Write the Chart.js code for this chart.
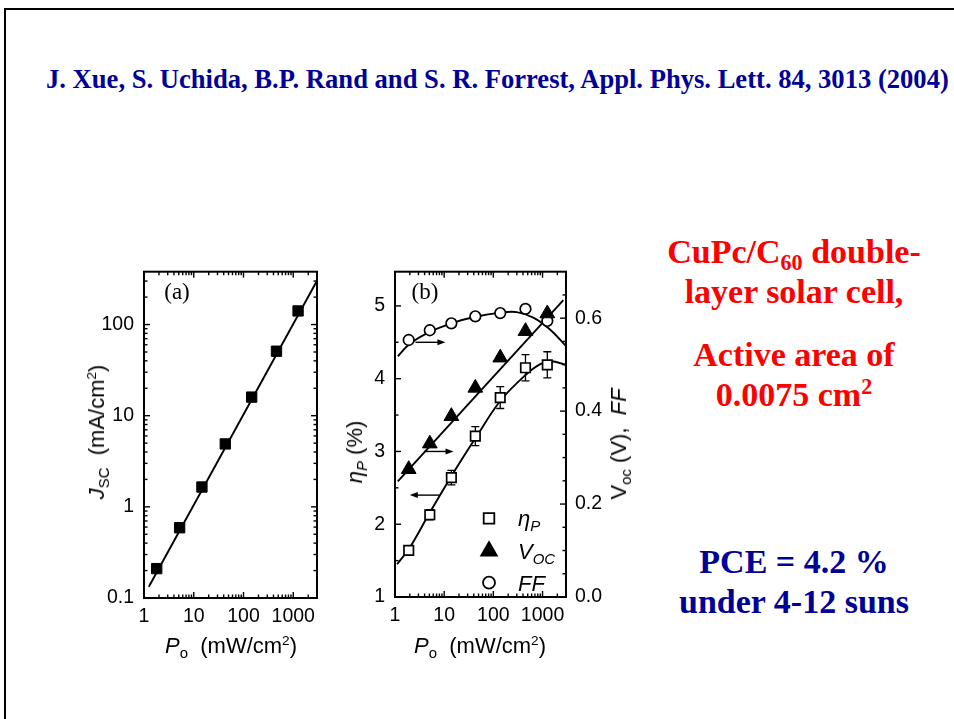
<!DOCTYPE html>
<html>
<head>
<meta charset="utf-8">
<script src="https://cdn.jsdelivr.net/npm/chart.js@4.4.1/dist/chart.umd.min.js"></script>
<style>
  html, body { margin: 0; padding: 0; background: #fff; }
  body { width: 954px; height: 719px; position: relative; overflow: hidden;
         font-family: "Liberation Sans", Arial, sans-serif; color: #000; }
  .frame { position: absolute; left: 4px; top: 8px; width: 1000px; height: 800px;
           border-top: 2px solid #000; border-left: 2px solid #000; }
  .cite { position: absolute; left: 46px; top: 66px; white-space: nowrap;
          font: bold 26.6px "Liberation Serif", "Times New Roman", serif; line-height: 26.6px; color: #000099; }
  .note { position: absolute; left: 644px; width: 300px; text-align: center; white-space: nowrap;
          font: bold 34px "Liberation Serif", "Times New Roman", serif; line-height: 34px; }
  .red { color: #ff0000; }
  .blue { color: #000099; }
  .note sub { font-size: 0.65em; vertical-align: -0.3em; line-height: 0; }
  .note sup { font-size: 0.65em; vertical-align: 0.55em; line-height: 0; }
  canvas { position: absolute; }
  .atitle { position: absolute; white-space: nowrap; font-size: 22px; line-height: 22px;
            transform: translate(-50%, -50%); }
  .atitle.rot { transform: translate(-50%, -50%) rotate(-90deg); }
  .atitle sub { font-size: 0.68em; vertical-align: -0.35em; line-height: 0; }
  .atitle sup { font-size: 0.62em; vertical-align: 0.6em; line-height: 0; }
  .panel { position: absolute; font: 23px "Liberation Serif", "Times New Roman", serif;
           line-height: 23px; transform: translate(-50%, -50%); }
</style>
</head>
<body>
<div class="frame"></div>
<div class="cite">J. Xue, S. Uchida, B.P. Rand and S. R. Forrest, Appl. Phys. Lett. 84, 3013 (2004)</div>

<div class="note red" style="top:235px">CuPc/C<sub>60</sub> double-</div>
<div class="note red" style="top:275px">layer solar cell,</div>
<div class="note red" style="top:338px">Active area of</div>
<div class="note red" style="top:378px">0.0075 cm<sup>2</sup></div>
<div class="note blue" style="top:545px">PCE = 4.2 %</div>
<div class="note blue" style="top:585px">under 4-12 suns</div>

<canvas id="jsc" width="280" height="430" style="left:60px;top:250px"></canvas>
<canvas id="eff" width="300" height="430" style="left:330px;top:250px"></canvas>

<div class="panel" style="left:177px;top:291px">(a)</div>
<div class="panel" style="left:425px;top:291px">(b)</div>

<div class="atitle rot" style="left:97px;top:432px"><i>J</i><sub>SC</sub>&nbsp; (mA/cm<sup>2</sup>)</div>
<div class="atitle" style="left:231px;top:646px"><i>P</i><sub>o</sub>&nbsp; (mW/cm<sup>2</sup>)</div>
<div class="atitle rot" style="left:355px;top:452px"><i>η</i><sub><i>P</i></sub>&nbsp;(%)</div>
<div class="atitle" style="left:480px;top:646px"><i>P</i><sub>o</sub>&nbsp; (mW/cm<sup>2</sup>)</div>
<div class="atitle rot" style="left:619px;top:444px">V<sub>oc</sub>&nbsp;(V), &nbsp;<i>FF</i></div>

<script>
// ---- (a) short-circuit current density vs incident power ----
const powerA = [1.8, 5.2, 14.6, 43, 146, 460, 1250];
const jscA = [0.21, 0.59, 1.65, 4.9, 16.0, 51, 141];
const fitPowerA = [1.25, 3000];
const fitJscA = [0.133, 303];

const xTickValues = [1, 10, 100, 1000];
const xTickLabels = ['1', '10', '100', '1000'];
const jscTickValues = [0.1, 1, 10, 100];
const jscTickLabels = ['0.1', '1', '10', '100'];

// ---- (b) efficiency, open-circuit voltage and fill factor ----
const powerB = [1.9, 5.1, 14, 43, 138, 450, 1250];
const etaP = [1.64, 2.13, 2.64, 3.21, 3.74, 4.15, 4.19];
const etaErr = [0.04, 0.07, 0.1, 0.13, 0.15, 0.18, 0.18];
const voc = [0.275, 0.33, 0.389, 0.45, 0.515, 0.572, 0.61];
const ff = [0.553, 0.574, 0.589, 0.604, 0.611, 0.62, 0.594];

const etaFitPower = [1.1, 2, 5, 14, 43, 140, 450, 900, 1500, 3000];
const etaFit = [1.45, 1.68, 2.15, 2.66, 3.18, 3.7, 4.05, 4.2, 4.24, 4.19];
const vocFitPower = [1.14, 2650];
const vocFit = [0.249, 0.639];
const ffFitPower = [1.14, 2, 5, 14, 43, 140, 300, 650, 1400, 3000];
const ffFit = [0.518, 0.545, 0.57, 0.589, 0.603, 0.612, 0.613, 0.601, 0.576, 0.54];

const etaTickValues = [1, 2, 3, 4, 5];
const etaTickLabels = ['1', '2', '3', '4', '5'];
const etaMinorTicks = [1.5, 2.5, 3.5, 4.5];
const rightTickValues = [0, 0.2, 0.4, 0.6];
const rightTickLabels = ['0.0', '0.2', '0.4', '0.6'];
const rightMinorTicks = [0.05, 0.1, 0.15, 0.25, 0.3, 0.35, 0.45, 0.5, 0.55, 0.65];

// axis-pointing arrows, placed on the left (efficiency) scale
const arrowLevel = [4.5, 3.0, 2.4];
const arrowFrom = [2.6, 3.9, 8.4];
const arrowTo = [10.6, 15.5, 2.0];

Chart.defaults.font.family = "'Liberation Sans', Arial, sans-serif";
Chart.defaults.color = '#000';

const pts = (xs, ys) => xs.map((x, i) => ({ x, y: ys[i] }));

function logMinors(lo, hi) {
  const out = [];
  for (let e = Math.floor(Math.log10(lo)); Math.pow(10, e) < hi; e++) {
    const d = Math.pow(10, e);
    for (let m = 2; m <= 9; m++) {
      const v = m * d;
      if (v > lo && v < hi) out.push(v);
    }
  }
  return out;
}

// closed box with inward ticks on every side
function framePlugin(spec) {
  return {
    id: 'frame',
    afterDraw(chart) {
      const { ctx, chartArea: a } = chart;
      const xs = chart.scales[spec.x];
      const ls = chart.scales[spec.left];
      const rs = chart.scales[spec.right];
      const major = 6, minor = 3.5;
      ctx.save();
      ctx.strokeStyle = '#000';
      ctx.lineWidth = 1.4;
      const seg = (x1, y1, x2, y2) => { ctx.beginPath(); ctx.moveTo(x1, y1); ctx.lineTo(x2, y2); ctx.stroke(); };
      const inX = p => p >= a.left - 0.5 && p <= a.right + 0.5;
      const inY = p => p >= a.top - 0.5 && p <= a.bottom + 0.5;
      const xt = (vals, len) => vals.forEach(v => {
        const p = xs.getPixelForValue(v);
        if (!inX(p)) return;
        seg(p, a.bottom, p, a.bottom - len);
        seg(p, a.top, p, a.top + len);
      });
      xt(spec.xMajor, major);
      xt(spec.xMinor, minor);
      const lt = (vals, len) => vals.forEach(v => {
        const p = ls.getPixelForValue(v);
        if (inY(p)) seg(a.left, p, a.left + len, p);
      });
      const rt = (vals, len) => vals.forEach(v => {
        const p = rs.getPixelForValue(v);
        if (inY(p)) seg(a.right, p, a.right - len, p);
      });
      lt(spec.leftMajor, major); lt(spec.leftMinor, minor);
      rt(spec.rightMajor, major); rt(spec.rightMinor, minor);
      ctx.lineWidth = 2;
      ctx.strokeRect(a.left, a.top, a.right - a.left, a.bottom - a.top);
      ctx.restore();
    }
  };
}

function fixedTicks(values, labels, pad) {
  return {
    grid: { display: false, drawTicks: false },
    border: { display: false },
    afterBuildTicks: s => { s.ticks = values.map(v => ({ value: v })); },
    ticks: {
      autoSkip: false, maxRotation: 0, minRotation: 0, padding: pad,
      font: { size: 19.5 }, color: '#000',
      callback: (v, i) => labels[i]
    }
  };
}

// ---------- chart (a) ----------
const jscMinor = logMinors(0.1, 380);
const powMinor = logMinors(1, 3000);

new Chart(document.getElementById('jsc'), {
  type: 'scatter',
  data: {
    datasets: [
      {
        data: pts(powerA, jscA),
        pointStyle: 'rect', pointRadius: 7.3, pointHoverRadius: 7.3,
        backgroundColor: '#000', borderColor: '#000', borderWidth: 1
      },
      {
        data: pts(fitPowerA, fitJscA),
        showLine: true, pointRadius: 0, borderColor: '#000', borderWidth: 1.9
      }
    ]
  },
  options: {
    responsive: false, animation: false, devicePixelRatio: 1,
    layout: { padding: { top: 13, right: 23, left: 0, bottom: 0 } },
    plugins: { legend: { display: false }, tooltip: { enabled: false } },
    scales: {
      x: {
        type: 'logarithmic', min: 1, max: 3000,
        ...fixedTicks(xTickValues, xTickLabels, 7),
        afterFit: s => { s.height = 82; }
      },
      y: {
        type: 'logarithmic', min: 0.1, max: 380,
        ...fixedTicks(jscTickValues, jscTickLabels, 10),
        afterFit: s => { s.width = 84; }
      }
    }
  },
  plugins: [framePlugin({
    x: 'x', left: 'y', right: 'y',
    xMajor: xTickValues, xMinor: powMinor,
    leftMajor: jscTickValues, leftMinor: jscMinor,
    rightMajor: jscTickValues, rightMinor: jscMinor
  })]
});

// ---------- chart (b) ----------
const errorBars = {
  id: 'errorBars',
  beforeDatasetsDraw(chart) {
    const { ctx } = chart;
    const xs = chart.scales.x, ys = chart.scales.y;
    ctx.save();
    ctx.strokeStyle = '#000';
    ctx.lineWidth = 1.3;
    powerB.forEach((p, i) => {
      const x = xs.getPixelForValue(p);
      const yt = ys.getPixelForValue(etaP[i] + etaErr[i]);
      const yb = ys.getPixelForValue(etaP[i] - etaErr[i]);
      ctx.beginPath();
      ctx.moveTo(x, yt); ctx.lineTo(x, yb);
      ctx.moveTo(x - 4, yt); ctx.lineTo(x + 4, yt);
      ctx.moveTo(x - 4, yb); ctx.lineTo(x + 4, yb);
      ctx.stroke();
    });
    ctx.restore();
  }
};

const arrows = {
  id: 'arrows',
  afterDatasetsDraw(chart) {
    const { ctx } = chart;
    const xs = chart.scales.x, ys = chart.scales.y;
    ctx.save();
    ctx.strokeStyle = '#000';
    ctx.fillStyle = '#000';
    ctx.lineWidth = 1.4;
    arrowLevel.forEach((lv, i) => {
      const y = ys.getPixelForValue(lv);
      const x1 = xs.getPixelForValue(arrowFrom[i]);
      const x2 = xs.getPixelForValue(arrowTo[i]);
      const dir = Math.sign(x2 - x1);
      ctx.beginPath();
      ctx.moveTo(x1, y); ctx.lineTo(x2 - dir * 4, y);
      ctx.stroke();
      ctx.beginPath();
      ctx.moveTo(x2, y);
      ctx.lineTo(x2 - dir * 8, y - 3);
      ctx.lineTo(x2 - dir * 8, y + 3);
      ctx.closePath();
      ctx.fill();
    });
    ctx.restore();
  }
};

const legendItems = [
  { style: 'rect', radius: 7.5, fill: '#fff', label: 'η', sub: 'P', dy: 246.7 },
  { style: 'triangle', radius: 9, fill: '#000', label: 'V', sub: 'OC', dy: 279.3 },
  { style: 'circle', radius: 6, fill: '#fff', label: 'FF', sub: '', dy: 311 }
];

const legendBox = {
  id: 'legendBox',
  afterDraw(chart) {
    const { ctx, chartArea: a } = chart;
    ctx.save();
    legendItems.forEach(it => {
      const mx = a.left + 94, y = a.top + it.dy;
      ctx.fillStyle = it.fill;
      ctx.strokeStyle = '#000';
      ctx.lineWidth = 1.8;
      Chart.helpers.drawPoint(ctx, { pointStyle: it.style, radius: it.radius, borderWidth: 1.8, rotation: 0 }, mx, y);
      ctx.fillStyle = '#000';
      ctx.textBaseline = 'alphabetic';
      ctx.font = "italic 22px 'Liberation Sans', Arial, sans-serif";
      const tx = a.left + 123;
      ctx.fillText(it.label, tx, y + 8);
      const w = ctx.measureText(it.label).width;
      if (it.sub) {
        ctx.font = "italic 15px 'Liberation Sans', Arial, sans-serif";
        ctx.fillText(it.sub, tx + w, y + 13);
      }
    });
    ctx.restore();
  }
};

new Chart(document.getElementById('eff'), {
  type: 'scatter',
  data: {
    datasets: [
      {
        data: pts(powerB, etaP), yAxisID: 'y',
        pointStyle: 'rect', pointRadius: 6.7, pointHoverRadius: 6.7,
        backgroundColor: '#fff', borderColor: '#000', borderWidth: 1.7
      },
      {
        data: pts(powerB, voc), yAxisID: 'y2',
        pointStyle: 'triangle', pointRadius: 8.5, pointHoverRadius: 8.5,
        backgroundColor: '#000', borderColor: '#000', borderWidth: 1
      },
      {
        data: pts(powerB, ff), yAxisID: 'y2',
        pointStyle: 'circle', pointRadius: 5.3, pointHoverRadius: 5.3,
        backgroundColor: '#fff', borderColor: '#000', borderWidth: 1.7
      },
      {
        data: pts(etaFitPower, etaFit), yAxisID: 'y',
        showLine: true, pointRadius: 0, tension: 0.35, borderColor: '#000', borderWidth: 1.9
      },
      {
        data: pts(vocFitPower, vocFit), yAxisID: 'y2',
        showLine: true, pointRadius: 0, borderColor: '#000', borderWidth: 1.9
      },
      {
        data: pts(ffFitPower, ffFit), yAxisID: 'y2',
        showLine: true, pointRadius: 0, tension: 0.35, borderColor: '#000', borderWidth: 1.9
      }
    ]
  },
  options: {
    responsive: false, animation: false, devicePixelRatio: 1,
    layout: { padding: { top: 14, right: 0, left: 0, bottom: 0 } },
    plugins: { legend: { display: false }, tooltip: { enabled: false } },
    scales: {
      x: {
        type: 'logarithmic', min: 1, max: 3000,
        ...fixedTicks(xTickValues, xTickLabels, 7),
        afterFit: s => { s.height = 83; }
      },
      y: {
        type: 'linear', position: 'left', min: 1, max: 5.47,
        ...fixedTicks(etaTickValues, etaTickLabels, 10),
        afterFit: s => { s.width = 65; }
      },
      y2: {
        type: 'linear', position: 'right', min: 0, max: 0.7,
        ...fixedTicks(rightTickValues, rightTickLabels, 9),
        afterFit: s => { s.width = 64; }
      }
    }
  },
  plugins: [errorBars, arrows, legendBox, framePlugin({
    x: 'x', left: 'y', right: 'y2',
    xMajor: xTickValues, xMinor: powMinor,
    leftMajor: etaTickValues, leftMinor: etaMinorTicks,
    rightMajor: rightTickValues, rightMinor: rightMinorTicks
  })]
});
</script>
</body>
</html>
